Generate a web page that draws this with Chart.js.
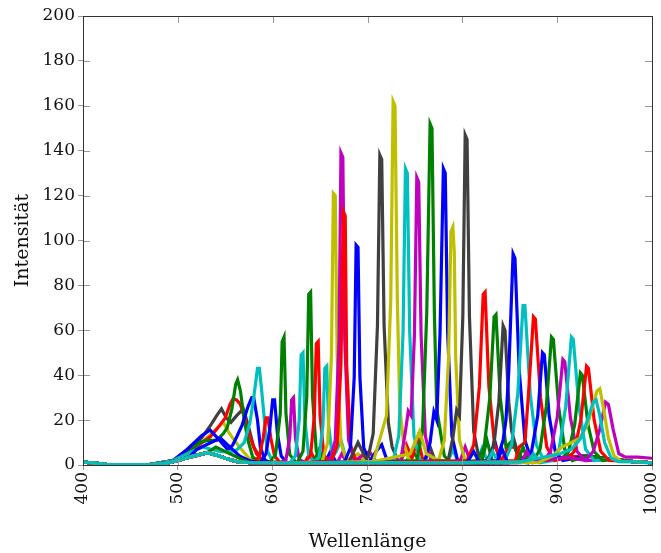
<!DOCTYPE html>
<html>
<head>
<meta charset="utf-8">
<script src="https://cdn.jsdelivr.net/npm/chart.js@4/dist/chart.umd.min.js"></script>
<style>
  html, body { margin: 0; padding: 0; background: #fff; }
  #wrap { width: 661px; height: 553px; position: relative; }
</style>
</head>
<body>
<div id="wrap"><canvas id="c" width="661" height="553"></canvas></div>
<script>
// ---- axis settings / labels ----
const xTitle = 'Wellenlänge';
const yTitle = 'Intensität';
const xTicks = [400, 500, 600, 700, 800, 900, 1000];
const yTicks = [0, 20, 40, 60, 80, 100, 120, 140, 160, 180, 200];

// ---- shared low background: [wavelength, intensity] ----
const background = [[400,1.3],[412,0.9],[425,0.3],[470,0.2],[488,0.8],[500,2],[512,3.5],[522,4.5],[531,5.5],[540,4.5],[550,3],[562,1.5],[578,1],[620,0.9],[700,1],[800,1.1],[860,1.3],[885,2],[910,3.5],[932,4],[958,2.5],[980,1.5],[1000,1]];

// ---- individual spectra: [wavelength, intensity] ----
const gray546    = [[495,2],[505,4],[515,8],[525,12],[535,18],[541,22],[546,25],[551,21],[556,19],[562,22],[569,25],[574,18],[580,8],[587,3],[595,1]];
const red558     = [[495,2],[510,6.7],[522,9],[534,12.5],[543,17],[550,21],[555,27],[558,29.4],[562,29],[566,27],[571,20],[576,12.5],[583,5],[590,2],[600,1]];
const green563   = [[495,2],[510,5],[523,10],[532,11],[541,11],[548,14],[552,16.5],[557,25],[561,36],[563,38],[566,33],[570,20],[574,11],[579,3.5],[586,1.5]];
const yellow548  = [[495,2],[510,4],[520,8],[530,12],[538,15],[548,19],[553,15],[558,12],[565,8],[575,3],[585,1]];
const blue579    = [[495,2],[510,7],[525,13],[534,15.6],[542,12],[548,9],[553,6.7],[558,9],[562,12.5],[568,18],[574,26],[578,30],[580,30],[584,20],[587,8],[592,2],[600,1]];
const cyan585    = [[495,2],[510,5],[526,8],[535,7],[545,6],[555,6],[562,6.7],[570,10],[576,18.7],[580,30],[584,43],[586,43],[588,35],[590,26],[594,6.7],[600,1.5]];
const red594     = [[580,1],[586,4],[590,12],[593,21],[595,21],[598,12],[602,4],[608,1],[634,1],[640,6],[646,1]];
const blue601    = [[500,2],[520,7],[535,10],[545,12],[555,8],[565,4],[575,2],[587,1],[593,5],[597,16],[600,29],[602,29],[605,14],[609,4],[615,1],[655,1],[661,6],[667,1]];
const green611   = [[520,4],[540,8],[555,5],[570,2],[597,1],[603,4.6],[608,22.8],[610,55],[612,57],[614,23],[618,4.6],[625,1],[643,1],[649,7],[655,1]];
const magenta621 = [[608,1],[614,2.4],[618,12],[620,29],[622,30],[624,12],[628,2.4],[635,1],[668,1],[673,5],[678,1]];
const cyan631    = [[618,1],[624,4],[628,20],[630,49],[632,50],[634,20],[638,4],[645,1],[690,1],[697,6],[704,1]];
const green639   = [[626,1],[632,6.2],[636,30.8],[638,76],[640,77],[642,30.8],[646,6.2],[652,1],[740,1],[748,6],[756,1]];
const red647     = [[634,1],[640,4.4],[644,22],[646,54],[648,55],[650,22],[654,4.4],[660,1],[690,1],[697,6],[704,1]];
const cyan656    = [[643,1],[649,3.5],[653,17.6],[655,43],[657,44],[659,17.6],[663,3.5],[667,6],[672,11],[678,2]];
const yellow665  = [[652,1.5],[658,9.8],[662,48.8],[664,121],[666,120],[668,48.8],[672,9.8],[678,2],[690,5],[698,1.5]];
const magenta673 = [[660,1.5],[666,11.1],[670,55.6],[672,139],[674,137],[676,55.6],[680,11.1],[686,2],[702,6],[710,1]];
const red674     = [[662,1.5],[668,9],[672,45],[674.5,113],[676.5,111],[678,45],[682,9],[688,1.5],[735,1],[741,9],[747,3],[753,12],[759,1]];
const blue689    = [[676,1.5],[682,7.8],[686,39],[688,98],[690,97],[692,39],[696,7.8],[702,1.5],[709,6],[715,9],[721,1.5]];
const gray714    = [[680,1],[690,10],[697,4],[700,2],[706,14],[710.5,62],[713,138],[715,136],[717.5,62],[722,18.7],[726,8],[732,2],[760,1],[766,8],[772,1]];
const yellow728  = [[706,1.5],[712,10],[716,16],[720,22],[724.5,73],[727,162],[729,160],[731.5,73],[734,26],[738,10],[744,2]];
const cyan741    = [[727,2],[733,13],[737.5,59],[740,132],[742,130],[744.5,59],[749,13],[755,2],[784,1],[790,6.7],[796,1],[815,1],[821,7.6],[827,1]];
const magenta753 = [[735,2],[740,15],[743,24],[746,22],[749.5,58],[752,128],[754,126],[756.5,58],[761,13],[767,2],[797,1],[803,8],[809,1]];
const green767   = [[752,2],[758,15],[762.5,68],[766,152],[768,150],[770.5,68],[773,25],[776,17],[781,4],[787,1.5],[820,1],[826,11],[832,1]];
const blue781    = [[760,1.5],[766,10],[770,23.6],[773,20],[776.5,59],[780,132],[782,130],[784.5,59],[789,13],[795,2],[828,1],[834,11],[840,1]];
const yellow790  = [[745,5],[755,15],[762,5],[775,2],[781,11],[785.5,48],[788,104],[790,106],[791.5,95],[793,48],[797,11],[803,2]];
const gray804    = [[785,2],[790,12],[794,24.5],[797,22],[800.5,66],[803,147],[805,145],[807.5,66],[812,15],[818,2]];
const red823     = [[805,2],[812,9],[818,35],[822,76],[824,77],[828,35],[834,9],[841,2],[849,8],[855,8],[861,2]];
const green835   = [[816,2],[823,8],[829,30],[833.5,66],[835.5,67],[840,30],[846,8],[853,11],[860,2]];
const gray844    = [[826,2],[833,8],[838.5,28],[843,62],[845,60],[849,28],[852,15],[858,6],[865,2]];
const blue855    = [[805,1],[812,6],[818,1],[836,2],[843,11],[846,20],[849,42],[853.5,94],[855.5,92],[860,42],[866,11],[873,2]];
const cyan865    = [[826,1],[832,6],[838,1],[845,2],[852,9],[858.5,32],[864,71],[866,71],[871.5,32],[878,9],[886,2]];
const red876     = [[856,2],[860,8],[866,10],[869.5,30],[875,66],[877,65],[882.5,30],[889,8],[897,2]];
const blue885    = [[836,1],[842,7],[848,1],[866,2],[873,6],[879.5,22],[884.5,50],[886.5,49],[891.5,22],[898,6],[906,2]];
const green895   = [[858,1],[864,8],[870,1],[875,2],[882,7],[888.5,26],[894,57],[896,56],[901.5,26],[908,7],[916,2]];
const magenta907 = [[862,1],[868,6],[874,1],[886,2],[893,6],[900,21],[906,47],[908,46],[914,21],[921,6],[930,2]];
const cyan916    = [[868,1],[875,5],[882,1],[895,2],[902,7],[909,26],[915,57],[917,56],[923,26],[930,7],[939,2]];
const green925   = [[905,3],[912,6],[918.5,18],[924.5,41],[926.5,40],[932.5,18],[939,6],[948,2]];
const red932     = [[911,3],[918,6],[925,20],[931,44],[933,43],[939,20],[946,6],[955,2]];
const magenta953 = [[930,2],[938,6],[945,16],[951,28],[954,27],[959,16],[965,5],[972,3.5],[985,3.5],[1000,3]];
const yellow944  = [[880,1],[895,4],[905,8],[915,10],[924,12],[932,18],[938,27],[942,33],[945,34],[949,25],[954,12],[960,4],[968,1.5],[1000,1]];
const cyan940    = [[860,1.3],[880,3],[903,5],[915,7],[925,12],[932,20],[938,28],[941,29],[945,22],[950,10],[957,3],[965,1.5],[1000,0.8]];

const palette = { blue:'#0000ff', red:'#ff0000', green:'#008000', magenta:'#bf00bf', cyan:'#00bfbf', yellow:'#bfbf00', gray:'#404040' };

// listed top-most first (Chart.js draws dataset 0 last)
const seriesList = [
  [cyan940,'cyan'],[yellow944,'yellow'],[magenta953,'magenta'],[red932,'red'],[green925,'green'],
  [cyan916,'cyan'],[magenta907,'magenta'],[green895,'green'],[blue885,'blue'],[red876,'red'],
  [cyan865,'cyan'],[blue855,'blue'],[gray844,'gray'],[green835,'green'],[red823,'red'],
  [gray804,'gray'],[yellow790,'yellow'],[blue781,'blue'],[green767,'green'],[magenta753,'magenta'],
  [cyan741,'cyan'],[yellow728,'yellow'],[gray714,'gray'],[blue689,'blue'],[red674,'red'],
  [magenta673,'magenta'],[yellow665,'yellow'],[cyan656,'cyan'],[red647,'red'],[green639,'green'],
  [cyan631,'cyan'],[magenta621,'magenta'],[green611,'green'],[blue601,'blue'],[red594,'red'],
  [cyan585,'cyan'],[blue579,'blue'],[green563,'green'],[red558,'red'],[yellow548,'yellow'],[gray546,'gray']
];

function assemble(points) {
  const bg = background.filter(b => !points.some(p => Math.abs(p[0] - b[0]) < 8));
  return bg.concat(points).sort((a, b) => a[0] - b[0]).map(p => ({ x: p[0], y: p[1] }));
}

const datasets = seriesList.map(([pts, col]) => ({
  data: assemble(pts),
  borderColor: palette[col],
  backgroundColor: palette[col],
  borderWidth: 3.2,
  pointRadius: 0,
  tension: 0,
  fill: false
}));

const FONT = 'DejaVu Serif';

const framePlugin = {
  id: 'frame',
  afterDraw(chart) {
    const { ctx, chartArea: a, scales } = chart;
    ctx.save();
    ctx.strokeStyle = '#999';
    ctx.lineWidth = 1;
    const inLen = 7;
    scales.x.ticks.forEach(t => {
      const px = Math.round(scales.x.getPixelForValue(t.value)) + 0.5;
      ctx.beginPath();
      ctx.moveTo(px, a.top); ctx.lineTo(px, a.top + inLen);
      ctx.moveTo(px, a.bottom); ctx.lineTo(px, a.bottom - inLen);
      ctx.stroke();
    });
    scales.y.ticks.forEach(t => {
      const py = Math.round(scales.y.getPixelForValue(t.value)) + 0.5;
      ctx.beginPath();
      ctx.moveTo(a.left, py); ctx.lineTo(a.left + inLen, py);
      ctx.moveTo(a.right, py); ctx.lineTo(a.right - inLen, py);
      ctx.stroke();
    });
    ctx.strokeStyle = '#333';
    ctx.lineWidth = 1;
    ctx.strokeRect(Math.round(a.left) + 0.5, Math.round(a.top) + 0.5, Math.round(a.right - a.left), Math.round(a.bottom - a.top));
    ctx.restore();
  }
};

new Chart(document.getElementById('c'), {
  type: 'line',
  data: { datasets },
  options: {
    responsive: false,
    animation: false,
    events: [],
    layout: { padding: { top: 16, right: 9, left: 0, bottom: 0 } },
    plugins: { legend: { display: false }, tooltip: { enabled: false } },
    scales: {
      x: {
        type: 'linear',
        min: xTicks[0],
        max: xTicks[xTicks.length - 1],
        afterBuildTicks: s => { s.ticks = xTicks.map(v => ({ value: v })); },
        afterFit: s => { s.height = 88; s.paddingRight = 0; s.paddingLeft = 0; },
        ticks: {
          autoSkip: false, minRotation: 90, maxRotation: 90, padding: 2,
          color: '#111', font: { family: FONT, size: 17 },
          callback: v => String(v)
        },
        grid: { drawOnChartArea: false, tickLength: 5, color: '#999' },
        border: { display: false },
        title: { display: true, text: xTitle, color: '#111', font: { family: FONT, size: 19 }, padding: { top: 2, bottom: 0 } }
      },
      y: {
        type: 'linear',
        min: yTicks[0],
        max: yTicks[yTicks.length - 1],
        afterBuildTicks: s => { s.ticks = yTicks.map(v => ({ value: v })); },
        afterFit: s => { s.width = 83; },
        ticks: {
          padding: 3, color: '#111', font: { family: FONT, size: 17 },
          callback: v => String(v)
        },
        grid: { drawOnChartArea: false, tickLength: 5, color: '#999' },
        border: { display: false },
        title: { display: true, text: yTitle, color: '#111', font: { family: FONT, size: 19 }, padding: { top: 12, bottom: 0 } }
      }
    }
  },
  plugins: [framePlugin]
});
</script>
</body>
</html>
